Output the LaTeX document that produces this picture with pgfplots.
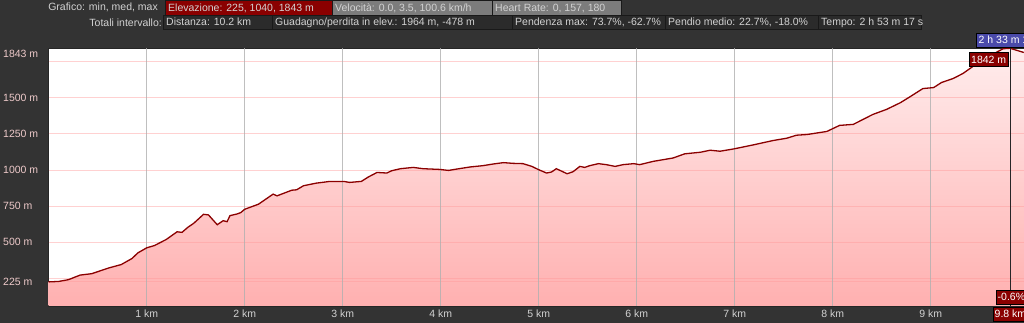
\documentclass[border=0pt]{standalone}
\usepackage{fontspec}
\setmainfont{Liberation Sans}
\usepackage{pgfplots}
\usepackage{pgfplotstable}
\pgfplotsset{compat=1.18}
\definecolor{bgdark}{HTML}{333333}
\definecolor{boxred}{HTML}{8A0000}
\definecolor{boxgray}{HTML}{7C7C7C}
\definecolor{boxdark}{HTML}{2B2B2B}
\definecolor{txt}{HTML}{D2D2D2}
\definecolor{ylab}{HTML}{EECACA}
\definecolor{profline}{HTML}{8B0000}
\definecolor{gridpinkc}{HTML}{FF9A9A}
\definecolor{gridgrayc}{HTML}{B0B0B0}
\definecolor{cursorblue}{HTML}{4A4AAA}
\definecolor{filltop}{HTML}{FFEDED}
\definecolor{fillbot}{HTML}{FFB0B0}

\pgfplotstableread{
km ele
0.00 225
0.10 228
0.20 240
0.32 272
0.44 282
0.61 321
0.74 345
0.85 387
0.91 426
1.00 461
1.08 477
1.20 519
1.31 572
1.36 568
1.42 603
1.48 631
1.58 693
1.63 689
1.72 621
1.78 649
1.82 642
1.85 684
1.92 695
1.96 705
2.00 728
2.14 763
2.29 833
2.33 821
2.48 860
2.53 863
2.60 891
2.73 909
2.87 921
3.01 921
3.07 914
3.19 921
3.26 951
3.35 983
3.45 979
3.50 995
3.59 1009
3.72 1018
3.82 1009
3.99 1004
4.08 997
4.16 1006
4.30 1021
4.43 1030
4.54 1042
4.64 1051
4.74 1046
4.84 1044
4.93 1025
5.00 1002
5.08 979
5.13 986
5.18 1009
5.29 974
5.35 988
5.42 1025
5.47 1018
5.52 1030
5.61 1044
5.69 1037
5.78 1025
5.86 1037
5.97 1044
6.03 1037
6.17 1060
6.37 1083
6.49 1112
6.65 1123
6.75 1137
6.85 1130
6.99 1146
7.19 1174
7.39 1204
7.53 1220
7.63 1241
7.74 1246
7.94 1267
8.07 1309
8.21 1316
8.41 1385
8.55 1420
8.69 1466
8.79 1508
8.92 1564
9.03 1571
9.11 1606
9.23 1634
9.33 1669
9.44 1722
9.57 1780
9.74 1840
9.81 1843
9.95 1814
}\profile

\newcommand{\hdrbox}[6]{% x1 x2 ybot ytop fill text
  \draw[fill=#5, draw=black!90] (#1,#3) rectangle (#2,#4);
  \node[anchor=base west, inner sep=0pt, text=txt] at (#1+3,#3+3.6) {#6};
}

\begin{document}
\begin{tikzpicture}[x=1pt,y=1pt,font=\fontsize{10.5}{12.6}\selectfont]
\useasboundingbox (0,0) rectangle (1024,323);
\clip (0,0) rectangle (1024,323);
\fill[bgdark] (0,0) rectangle (1024,323);

% header row 1
\node[anchor=base east, inner sep=0pt, text=txt] at (158,312) {Grafico: min, med, max};
\hdrbox{165}{332}{308}{322.5}{boxred}{Elevazione: 225, 1040, 1843 m}
\hdrbox{332}{492}{308}{322.5}{boxgray}{Velocità: 0.0, 3.5, 100.6 km/h}
\hdrbox{492}{621}{308}{322.5}{boxgray}{Heart Rate: 0, 157, 180}
% header row 2
\node[anchor=base east, inner sep=0pt, text=txt] at (162,296.8) {Totali intervallo:};
\hdrbox{163}{272}{293.5}{308}{boxdark}{Distanza: 10.2 km}
\hdrbox{272}{512}{293.5}{308}{boxdark}{Guadagno/perdita in elev.: 1964 m, -478 m}
\hdrbox{512}{665}{293.5}{308}{boxdark}{Pendenza max: 73.7\%, -62.7\%}
\hdrbox{665}{818}{293.5}{308}{boxdark}{Pendio medio: 22.7\%, -18.0\%}
\hdrbox{818}{921}{293.5}{308}{boxdark}{Tempo: 2 h 53 m 17 s}

\begin{axis}[
  at={(48.7pt,17pt)}, anchor=south west,
  scale only axis, width=975.3pt, height=257.7pt,
  xmin=0, xmax=9.952, ymin=58, ymax=1843,
  axis background/.style={fill=white},
  axis line style={draw=black!85, line width=0.8pt},
  xtick={1,2,3,4,5,6,7,8,9},
  xticklabels={1 km,2 km,3 km,4 km,5 km,6 km,7 km,8 km,9 km},
  ytick={225,500,750,1000,1250,1500},
  yticklabels={225 m,500 m,750 m,1000 m,1250 m,1500 m},
  extra y ticks={1843},
  extra y tick labels={1843 m},
  extra y tick style={yticklabel style={anchor=north west, yshift=-1.2pt}},
  major tick length=0pt,
  tick style={draw=none},
  xticklabel style={text=txt, font=\fontsize{10.5}{12.6}\selectfont, yshift=-0.5pt},
  yticklabel style={text=ylab, font=\fontsize{10.5}{12.6}\selectfont, anchor=west, inner sep=0pt, xshift=-45.7pt},
  clip=true,
]
\addplot[draw=none, top color=filltop, bottom color=fillbot] table[x=km,y=ele] {\profile} \closedcycle;
\pgfplotsinvokeforeach{225,250,500,750,1000,1250,1500,1750}{
  \draw[gridpinkc, opacity=0.45, line width=1pt] (axis cs:0,#1) -- (axis cs:9.952,#1);
}
\pgfplotsinvokeforeach{1,2,3,4,5,6,7,8,9}{
  \draw[gridgrayc, opacity=0.8, line width=1pt] (axis cs:#1,58) -- (axis cs:#1,1843);
}
\addplot[profline, line width=1.3pt] table[x=km,y=ele] {\profile};
\draw[black!85, line width=0.8pt] (axis cs:9.81,58) -- (axis cs:9.81,1843);
\end{axis}

% cursor annotations
\draw[fill=cursorblue, draw=black] (976,276) rectangle (1040,290);
\node[anchor=base west, inner sep=0pt, text=white] at (978.5,279.5) {2 h 33 m 16 s};
\draw[fill=boxred, draw=black] (969,256.3) rectangle (1008,270.3);
\node[anchor=base west, inner sep=0pt, text=white] at (971,259.6) {1842 m};
\draw[fill=boxred, draw=black] (996,19) rectangle (1030,33);
\node[anchor=base west, inner sep=0pt, text=white] at (997.5,22.4) {-0.6\%};
\draw[fill=boxred, draw=black] (993,2) rectangle (1040,16);
\node[anchor=base west, inner sep=0pt, text=white] at (994.5,5.4) {9.8 km};
\end{tikzpicture}
\end{document}
